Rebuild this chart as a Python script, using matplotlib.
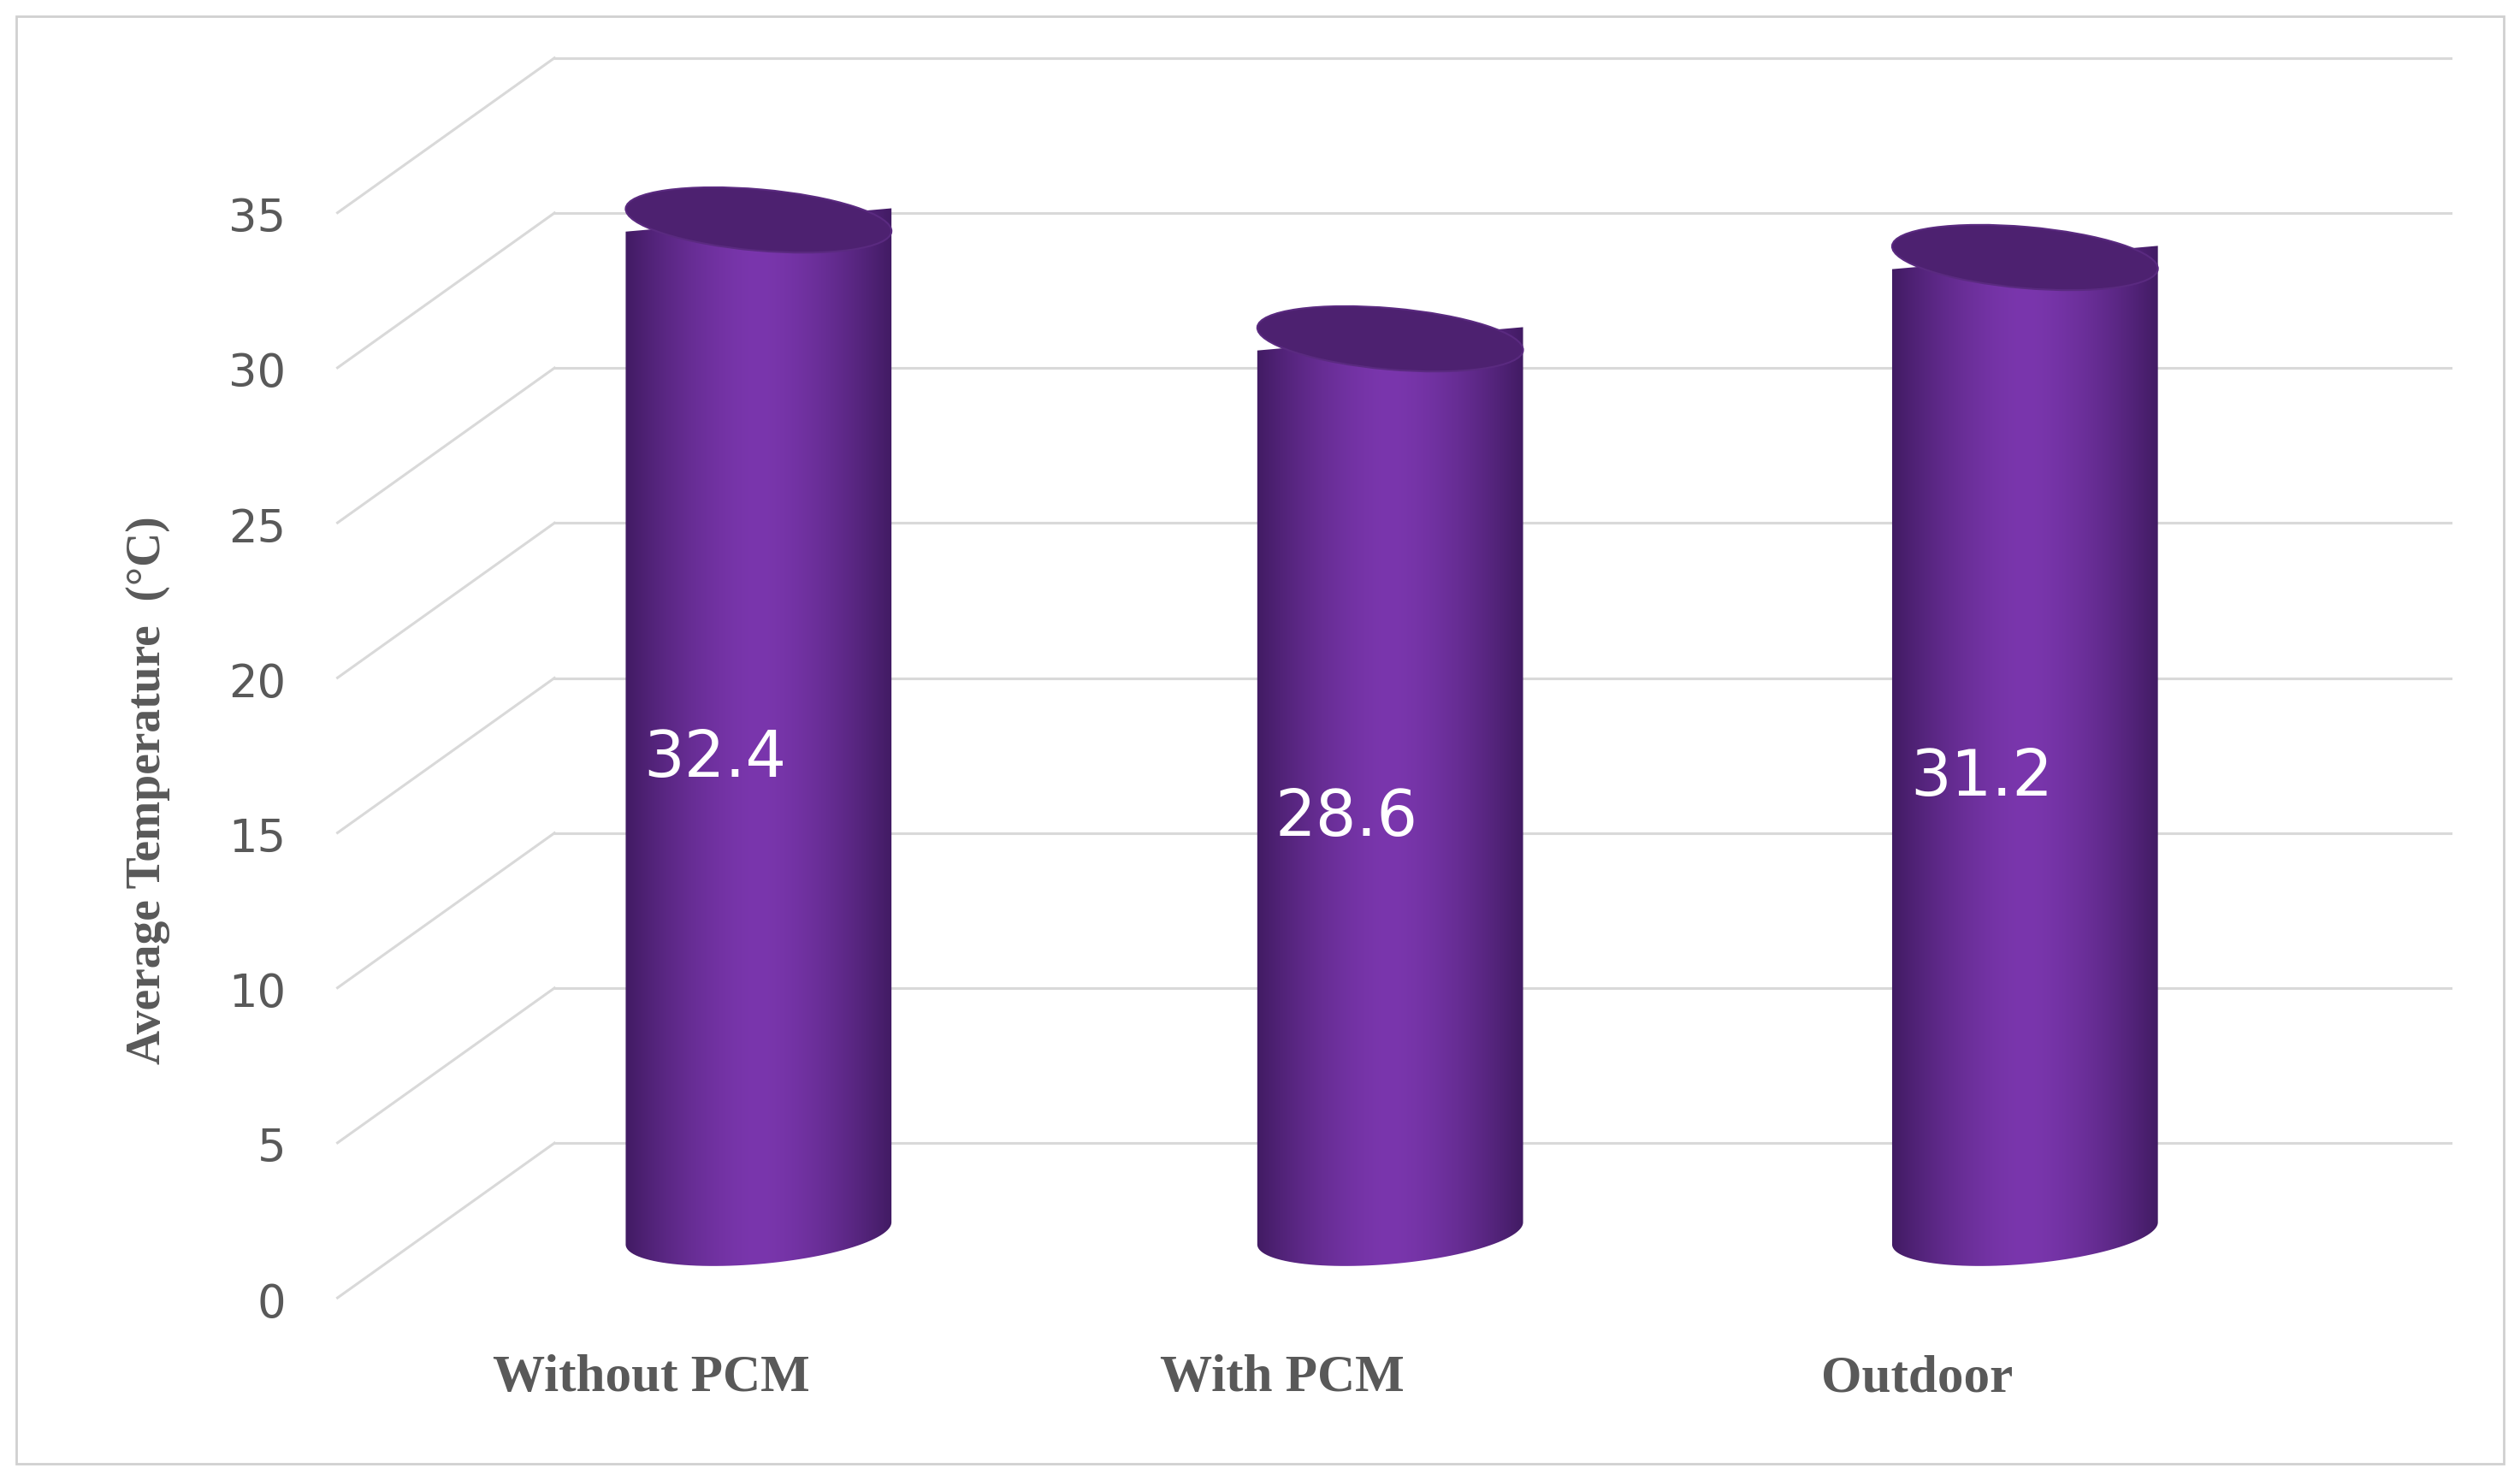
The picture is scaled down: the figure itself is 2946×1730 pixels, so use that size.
import numpy as np
import matplotlib.pyplot as plt
from matplotlib.patches import Ellipse, Rectangle, Polygon
from matplotlib.path import Path

categories = ['Without PCM', 'With PCM', 'Outdoor']
values = [32.4, 28.6, 31.2]
y_ticks = [0, 5, 10, 15, 20, 25, 30, 35]

W, H = 1568, 918
fig = plt.figure(figsize=(29.46, 17.30), dpi=100)
ax = fig.add_axes([0, 0, 1, 1])
ax.set_xlim(0, W)
ax.set_ylim(H, 0)
ax.axis('off')

# outer border
ax.add_patch(Rectangle((10, 10), W - 20, H - 20, fill=False, ec='#d0d0d0', lw=2))

unit = 19.23
def front_y(v):
    return 805 - v * unit

dx, dy = 135, 96
# gridlines: diagonal floor/wall lines plus back horizontals
for v in y_ticks:
    y0 = front_y(v)
    ax.plot([210, 210 + dx], [y0, y0 - dy], color='#d9d9d9', lw=2.2)
    ax.plot([210 + dx, 1525], [y0 - dy, y0 - dy], color='#d9d9d9', lw=2.2)
    ax.text(178, y0 + 4, str(v), ha='right', va='center', fontsize=38, color='#595959')

ax.text(92, 490, 'Average Temperature  (°C)', rotation=90, ha='center', va='center',
        fontsize=40, fontweight='bold', color='#595959', family='Liberation Serif')

centers = [472, 865, 1260]
half_w = 83
eh = 19
base_y = 765
scale = 19.4
tilt = -5

grad = np.abs(np.linspace(-1, 1, 300)) ** 1.6
c_light = np.array([0x7a, 0x36, 0xad]) / 255
c_dark = np.array([0x3f, 0x1a, 0x60]) / 255
img = (c_light[None, :] * (1 - grad[:, None]) + c_dark[None, :] * grad[:, None])[None, :, :]

for cx, v, name in zip(centers, values, categories):
    top = base_y - v * scale
    t = np.linspace(0, np.pi, 60)
    a = np.radians(tilt)
    # lower half of bottom ellipse and straight sides
    ex = half_w * np.cos(t)
    ey = eh * np.sin(t)
    bx = cx + ex * np.cos(a) - ey * np.sin(a)
    by = base_y + ex * np.sin(a) + ey * np.cos(a)
    tx = cx + ex[::-1] * np.cos(a) + ey[::-1] * np.sin(a) * 0
    ty = top + ex[::-1] * np.sin(a)
    verts = list(zip(bx, by)) + list(zip(tx[::-1], ty[::-1]))[::-1]
    body = Polygon(verts, closed=True, fc='none', ec='none')
    ax.add_patch(body)
    im = ax.imshow(img, extent=[cx - half_w - 2, cx + half_w + 2, base_y + 30, top - 30],
                   aspect='auto', zorder=2)
    im.set_clip_path(body)
    ax.add_patch(Ellipse((cx, top), 2 * half_w, 2 * eh, angle=-tilt, fc='#4d2170',
                         ec='#5a2a80', lw=1.5, zorder=3))
    ax.text(cx - 27, (base_y + top) / 2 + 20, f'{v}', ha='center', va='center',
            fontsize=54, color='white', zorder=4)
    ax.text(cx - 67, 855, name, ha='center', va='center', fontsize=44,
            fontweight='bold', color='#595959', family='Liberation Serif')

fig.savefig('out.png', dpi=100, facecolor='white')
